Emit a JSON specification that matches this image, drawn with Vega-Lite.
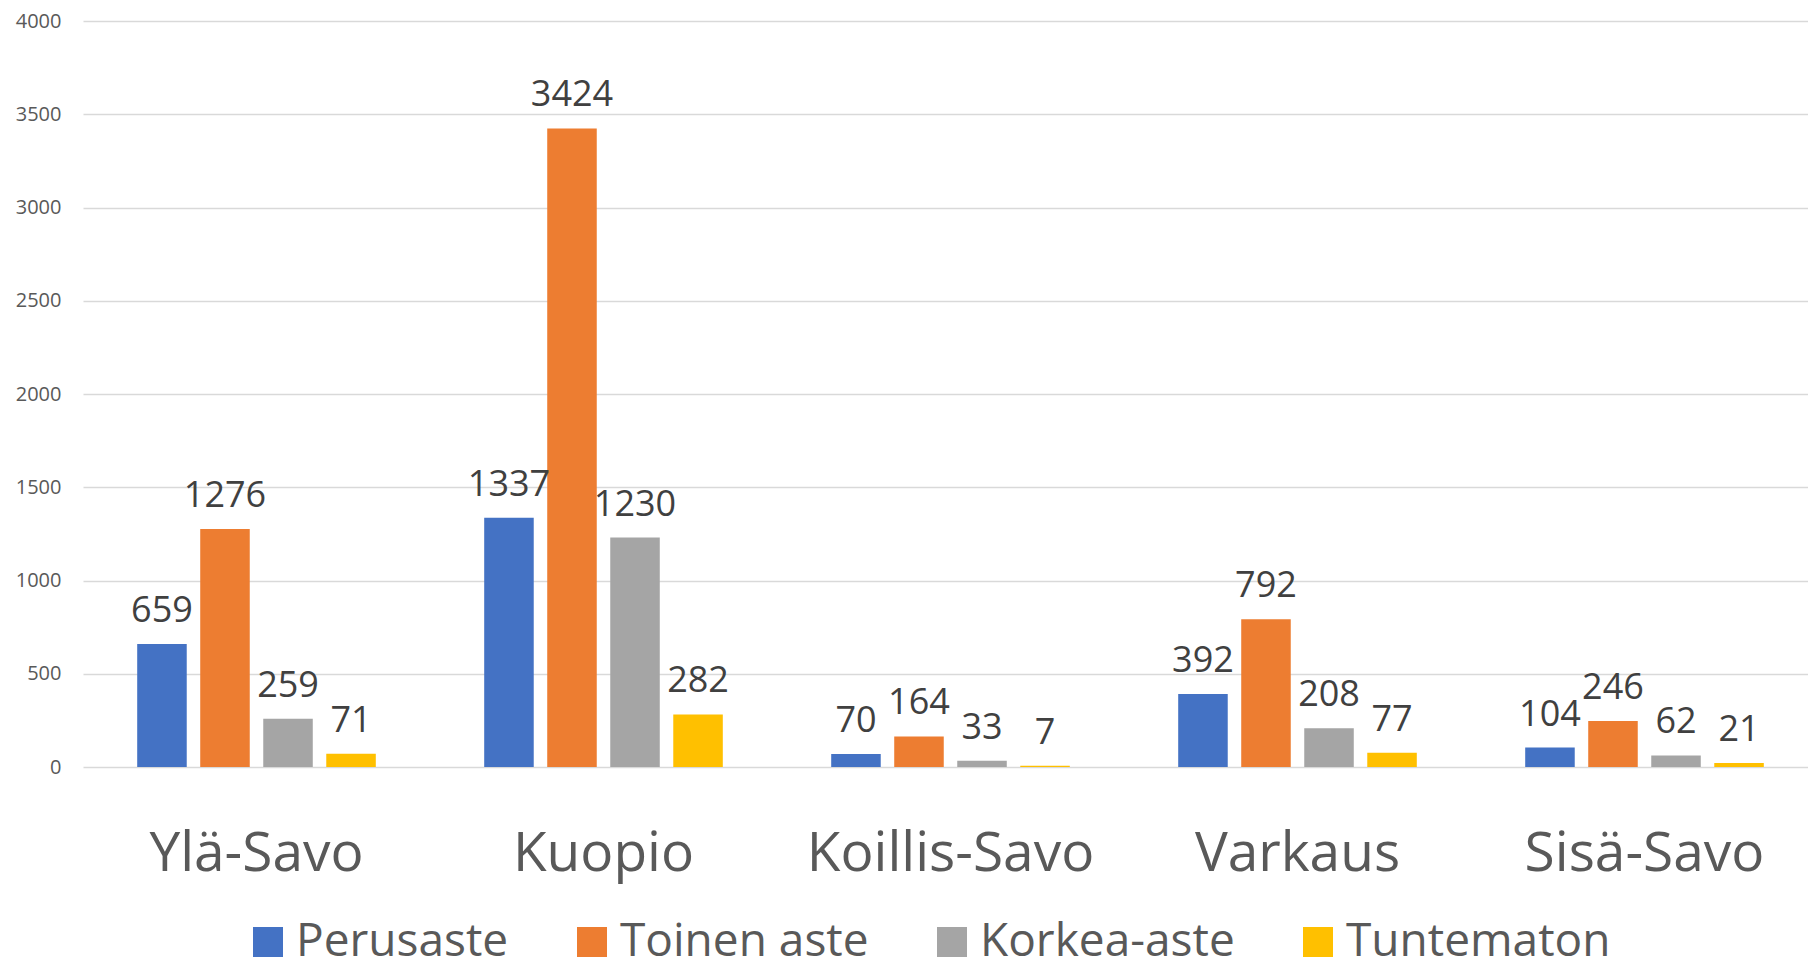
{
  "$schema": "https://vega.github.io/schema/vega-lite/v6.json",
  "width": 1735,
  "height": 746,
  "autosize": {"type": "none"},
  "padding": {"left": 83, "top": 21, "right": 0, "bottom": 196},
  "background": "white",
  "config": {"view": {"stroke": null}, "font": "Open Sans"},
  "data": {
    "values": [
      {"region": "Ylä-Savo", "level": "Perusaste", "value": 659},
      {"region": "Ylä-Savo", "level": "Toinen aste", "value": 1276},
      {"region": "Ylä-Savo", "level": "Korkea-aste", "value": 259},
      {"region": "Ylä-Savo", "level": "Tuntematon", "value": 71},
      {"region": "Kuopio", "level": "Perusaste", "value": 1337},
      {"region": "Kuopio", "level": "Toinen aste", "value": 3424},
      {"region": "Kuopio", "level": "Korkea-aste", "value": 1230},
      {"region": "Kuopio", "level": "Tuntematon", "value": 282},
      {"region": "Koillis-Savo", "level": "Perusaste", "value": 70},
      {"region": "Koillis-Savo", "level": "Toinen aste", "value": 164},
      {"region": "Koillis-Savo", "level": "Korkea-aste", "value": 33},
      {"region": "Koillis-Savo", "level": "Tuntematon", "value": 7},
      {"region": "Varkaus", "level": "Perusaste", "value": 392},
      {"region": "Varkaus", "level": "Toinen aste", "value": 792},
      {"region": "Varkaus", "level": "Korkea-aste", "value": 208},
      {"region": "Varkaus", "level": "Tuntematon", "value": 77},
      {"region": "Sisä-Savo", "level": "Perusaste", "value": 104},
      {"region": "Sisä-Savo", "level": "Toinen aste", "value": 246},
      {"region": "Sisä-Savo", "level": "Korkea-aste", "value": 62},
      {"region": "Sisä-Savo", "level": "Tuntematon", "value": 21}
    ]
  },
  "encoding": {
    "x": {
      "field": "region",
      "type": "nominal",
      "sort": ["Ylä-Savo", "Kuopio", "Koillis-Savo", "Varkaus", "Sisä-Savo"],
      "scale": {"paddingInner": 0, "paddingOuter": 0},
      "axis": {
        "title": null,
        "domain": false,
        "ticks": false,
        "tickSize": 0,
        "labelAngle": 0,
        "labelFontSize": 55,
        "labelColor": "#595959",
        "labelPadding": 103,
        "labelBaseline": "alphabetic",
        "labelLimit": 500,
        "labelFont": "Open Sans"
      }
    },
    "xOffset": {
      "field": "level",
      "type": "nominal",
      "sort": ["Perusaste", "Toinen aste", "Korkea-aste", "Tuntematon"],
      "scale": {"paddingInner": 0.214, "paddingOuter": 0.86}
    },
    "y": {
      "field": "value",
      "type": "quantitative",
      "scale": {"domain": [0, 4000]},
      "axis": {
        "title": null,
        "values": [0, 500, 1000, 1500, 2000, 2500, 3000, 3500, 4000],
        "format": "d",
        "grid": true,
        "gridColor": "#D9D9D9",
        "gridWidth": 1.5,
        "domain": false,
        "ticks": false,
        "tickSize": 0,
        "labelFontSize": 20,
        "labelColor": "#595959",
        "labelPadding": 22,
        "labelFont": "Open Sans"
      }
    }
  },
  "layer": [
    {
      "mark": {"type": "bar"},
      "encoding": {
        "color": {
          "field": "level",
          "type": "nominal",
          "sort": ["Perusaste", "Toinen aste", "Korkea-aste", "Tuntematon"],
          "scale": {
            "domain": ["Perusaste", "Toinen aste", "Korkea-aste", "Tuntematon"],
            "range": ["#4472C4", "#ED7D31", "#A5A5A5", "#FFC000"]
          },
          "legend": {
            "title": null,
            "orient": "none",
            "legendX": 162,
            "legendY": 898,
            "direction": "horizontal",
            "columns": 4,
            "symbolType": "square",
            "symbolSize": 900,
            "symbolStrokeWidth": 0,
            "labelFontSize": 46,
            "labelFont": "Open Sans",
            "labelColor": "#595959",
            "labelOffset": 5,
            "labelLimit": 500,
            "columnPadding": 60,
            "padding": 0
          }
        }
      }
    },
    {
      "mark": {"type": "text", "baseline": "alphabetic", "dy": -22, "fontSize": 36, "color": "#404040", "font": "Open Sans"},
      "encoding": {"text": {"field": "value", "type": "quantitative"}}
    }
  ]
}
